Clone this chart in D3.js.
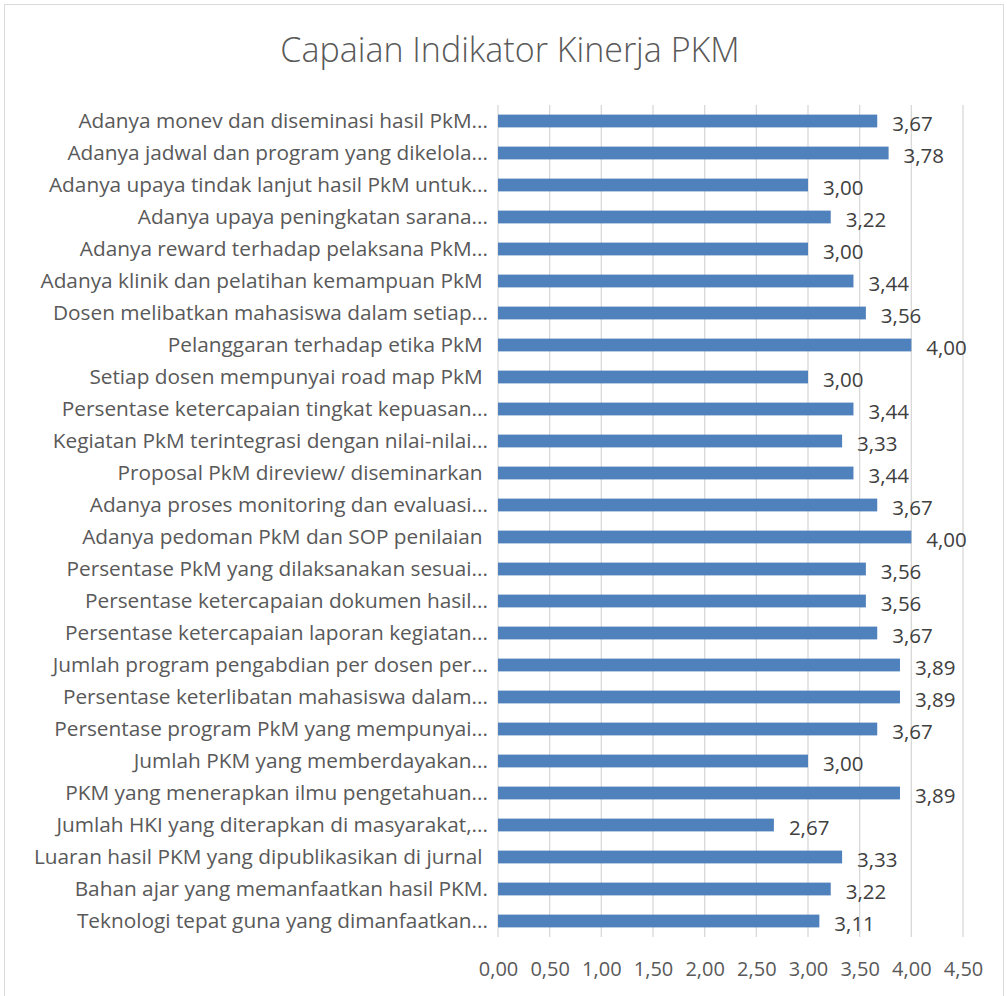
<!DOCTYPE html>
<html>
<head>
<meta charset="utf-8">
<script src="https://cdn.jsdelivr.net/npm/d3@7"></script>
<style>
  body { margin: 0; background: #fff; }
  text { font-family: "Open Sans", "Noto Sans", sans-serif; }
</style>
</head>
<body>
<div id="wrapper"></div>
<script>

// 1. Data
const categories = [
    "Adanya monev dan diseminasi hasil PkM...",
    "Adanya jadwal dan program yang dikelola...",
    "Adanya upaya tindak lanjut hasil PkM untuk...",
    "Adanya upaya peningkatan sarana...",
    "Adanya reward terhadap pelaksana PkM...",
    "Adanya klinik dan pelatihan kemampuan PkM ",
    "Dosen melibatkan mahasiswa dalam setiap...",
    "Pelanggaran terhadap etika PkM ",
    "Setiap dosen mempunyai road map PkM ",
    "Persentase ketercapaian tingkat kepuasan...",
    "Kegiatan PkM terintegrasi dengan nilai-nilai...",
    "Proposal PkM direview/ diseminarkan ",
    "Adanya proses monitoring dan evaluasi...",
    "Adanya pedoman PkM dan SOP penilaian ",
    "Persentase PkM yang dilaksanakan sesuai...",
    "Persentase ketercapaian dokumen hasil...",
    "Persentase ketercapaian laporan kegiatan...",
    "Jumlah program pengabdian per dosen per...",
    "Persentase keterlibatan mahasiswa dalam...",
    "Persentase program PkM yang mempunyai...",
    "Jumlah PKM yang memberdayakan...",
    "PKM yang menerapkan ilmu pengetahuan...",
    "Jumlah HKI yang diterapkan di masyarakat,...",
    "Luaran hasil PKM yang dipublikasikan di jurnal ",
    "Bahan ajar yang memanfaatkan hasil PKM.",
    "Teknologi tepat guna yang dimanfaatkan..."
]

const values = [3.67, 3.78, 3.00, 3.22, 3.00, 3.44, 3.56, 4.00, 3.00, 3.44, 3.33, 3.44, 3.67,
                4.00, 3.56, 3.56, 3.67, 3.89, 3.89, 3.67, 3.00, 3.89, 2.67, 3.33, 3.22, 3.11]

const xTicks = [0, 0.5, 1, 1.5, 2, 2.5, 3, 3.5, 4, 4.5]

const title = "Capaian Indikator Kinerja PKM"

const data = categories.map((c, i) => ({ label: c, value: values[i] }))

// 2. Dimensions
let dimensions = {
    width: 1007,
    height: 996,
    margin: { top: 105, right: 44, bottom: 59, left: 498 },
}
dimensions.boundedWidth = dimensions.width - dimensions.margin.left - dimensions.margin.right
dimensions.boundedHeight = dimensions.height - dimensions.margin.top - dimensions.margin.bottom

const fmt = v => d3.format(".2f")(v).replace(".", ",")

const wrapper = d3.select("#wrapper")
    .append("svg")
    .attr("width", dimensions.width)
    .attr("height", dimensions.height)

// chart border (bottom edge runs off the picture)
wrapper.append("rect")
    .attr("x", 4.5)
    .attr("y", 4.5)
    .attr("width", dimensions.width - 8)
    .attr("height", dimensions.height)
    .attr("fill", "#fff")
    .attr("stroke", "#d9d9d9")

wrapper.append("text")
    .attr("x", 510)
    .attr("y", 62)
    .attr("text-anchor", "middle")
    .style("font-size", "34px")
    .style("font-weight", 300)
    .style("fill", "#595959")
    .text(title)

const bounds = wrapper.append("g")
    .attr("transform", `translate(${dimensions.margin.left}, ${dimensions.margin.top})`)

// 3. Scales
const xScale = d3.scaleLinear()
    .domain([0, 4.5])
    .range([0, dimensions.boundedWidth])

const yScale = d3.scaleBand()
    .domain(categories)
    .range([0, dimensions.boundedHeight])
    .paddingInner(0.6)
    .paddingOuter(0.3)

// gridlines
bounds.append("g")
    .attr("class", "grid")
    .selectAll("line")
    .data(xTicks)
    .join("line")
    .attr("x1", d => xScale(d))
    .attr("x2", d => xScale(d))
    .attr("y1", 0)
    .attr("y2", dimensions.boundedHeight)
    .attr("stroke", "#d9d9d9")
    .attr("stroke-width", 1.3)

// bars
bounds.append("g")
    .selectAll("rect")
    .data(data)
    .join("rect")
    .attr("x", xScale(0))
    .attr("y", d => yScale(d.label))
    .attr("width", d => xScale(d.value) - xScale(0))
    .attr("height", yScale.bandwidth())
    .attr("fill", "#4f81bd")

// value labels
bounds.append("g")
    .selectAll("text")
    .data(data)
    .join("text")
    .attr("x", d => xScale(d.value) + 15)
    .attr("y", d => yScale(d.label) + yScale.bandwidth() / 2 + 10)
    .style("font-size", "20.5px")
    .style("fill", "#404040")
    .text(d => fmt(d.value))

// y axis labels
const yAxis = d3.axisLeft(yScale).tickSize(0).tickPadding(10)
const yAxisGroup = bounds.append("g").call(yAxis)
yAxisGroup.select(".domain").remove()
yAxisGroup.selectAll("text")
    .style("font-size", "20.8px")
    .style("fill", "#595959")
    .style("font-family", "\"Open Sans\", sans-serif")
    .style("white-space", "pre")

// x axis
const xAxis = d3.axisBottom(xScale).tickValues(xTicks).tickSize(0).tickPadding(25).tickFormat(fmt)
const xAxisGroup = bounds.append("g")
    .attr("transform", `translate(0, ${dimensions.boundedHeight})`)
    .call(xAxis)
xAxisGroup.select(".domain").remove()
xAxisGroup.selectAll("text")
    .style("font-size", "20px")
    .style("fill", "#595959")
    .style("font-family", "\"Open Sans\", sans-serif")

</script>
</body>
</html>
